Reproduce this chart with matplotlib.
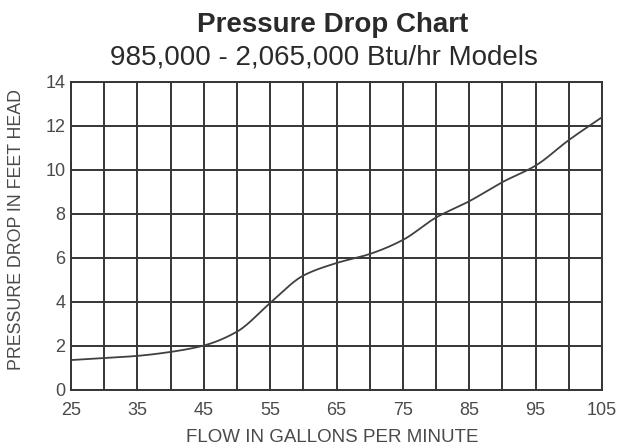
import matplotlib.pyplot as plt
import numpy as np

plt.rcParams['font.family'] = ['Liberation Sans', 'DejaVu Sans']

# flow (gpm) vs pressure drop (ft head)
flow = [25, 30, 35, 40, 45, 50, 55, 60, 65, 70, 75, 80, 85, 90, 95, 100, 105]
drop = [1.36, 1.45, 1.55, 1.73, 2.02, 2.65, 3.95, 5.2, 5.77, 6.18, 6.82, 7.84, 8.58, 9.45, 10.2, 11.36, 12.4]

xticks = [25, 35, 45, 55, 65, 75, 85, 95, 105]
yticks = [0, 2, 4, 6, 8, 10, 12, 14]

grid_col = '#353535'
text_col = '#4a4a4a'


def pchip(x, y, xs):
    # monotone cubic through the read points
    x = np.asarray(x, float)
    y = np.asarray(y, float)
    h = np.diff(x)
    d = np.diff(y) / h
    m = np.zeros_like(y)
    for i in range(1, len(y) - 1):
        if d[i - 1] * d[i] > 0:
            w1 = 2 * h[i] + h[i - 1]
            w2 = h[i] + 2 * h[i - 1]
            m[i] = (w1 + w2) / (w1 / d[i - 1] + w2 / d[i])
    m[0] = d[0]
    m[-1] = d[-1]
    idx = np.clip(np.searchsorted(x, xs) - 1, 0, len(h) - 1)
    t = (xs - x[idx]) / h[idx]
    h00 = 2 * t**3 - 3 * t**2 + 1
    h10 = t**3 - 2 * t**2 + t
    h01 = -2 * t**3 + 3 * t**2
    h11 = t**3 - t**2
    return (h00 * y[idx] + h10 * h[idx] * m[idx] + h01 * y[idx + 1]
            + h11 * h[idx] * m[idx + 1])


fig = plt.figure(figsize=(6.2, 4.48), dpi=100)
ax = fig.add_axes([0.1145, 0.1295, 0.8565, 0.6875])

xs = np.linspace(25, 105, 400)
ax.plot(xs, pchip(flow, drop, xs), color='#404040', lw=1.3, zorder=3)

ax.set_xlim(25, 105)
ax.set_ylim(0, 14)
ax.set_xticks(np.arange(25, 106, 5), minor=True)
ax.set_xticks(xticks)
ax.set_yticks(yticks)
ax.grid(True, which='both', axis='x', color=grid_col, lw=1.4)
ax.grid(True, which='major', axis='y', color=grid_col, lw=1.4)
for s in ax.spines.values():
    s.set_color(grid_col)
    s.set_linewidth(1.4)
ax.tick_params(which='both', length=0, labelsize=13, labelcolor=text_col)
ax.tick_params(axis='x', pad=9)
ax.tick_params(axis='y', pad=4)

fig.text(0.536, 0.014, 'FLOW IN GALLONS PER MINUTE', ha='center', va='baseline',
         fontsize=13.5, color=text_col)
fig.text(0.026, 0.487, 'PRESSURE DROP IN FEET HEAD', ha='center', va='center',
         rotation=90, fontsize=12.8, color=text_col)

fig.text(0.536, 0.9286, 'Pressure Drop Chart', ha='center', va='baseline',
         fontsize=20, fontweight='bold', color='#2a2a2a')
fig.text(0.522, 0.855, '985,000 - 2,065,000 Btu/hr Models', ha='center', va='baseline',
         fontsize=20, color='#2a2a2a')

fig.savefig('out.png', dpi=100)
